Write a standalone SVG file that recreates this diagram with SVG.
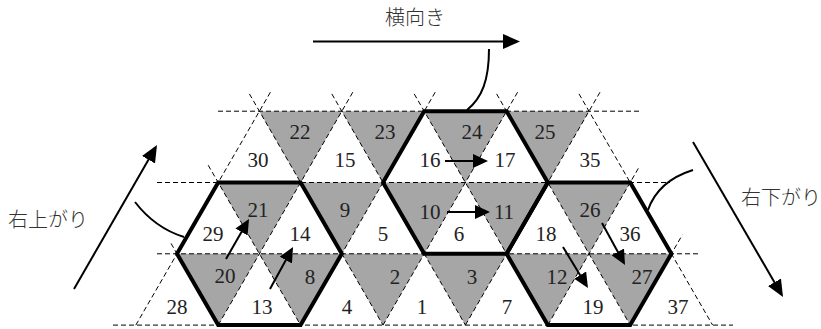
<svg xmlns="http://www.w3.org/2000/svg" width="821" height="329" viewBox="0 0 821 329">
  <style>
    .down { fill: #a6a6a6; stroke: none; }
    .num { font-family: "Liberation Serif", "Times New Roman", serif; font-size: 21px; fill: #222; text-anchor: middle; }
    .jp { font-family: "Noto Sans CJK JP", "Noto Sans", sans-serif; font-size: 20px; font-weight: 300; fill: #333; }
    .grid line { stroke: #000; stroke-width: 1; stroke-dasharray: 5 3; }
    .hex { fill: none; stroke: #000; stroke-width: 4; stroke-linejoin: miter; }
    .big { fill: none; stroke: #000; stroke-width: 2; marker-end: url(#headBig); }
    .small { fill: none; stroke: #000; stroke-width: 2; marker-end: url(#headSmall); }
    .curve { fill: none; stroke: #000; stroke-width: 2; }
  </style>
  <defs>
    <marker id="headBig" markerUnits="userSpaceOnUse" markerWidth="17" markerHeight="15" refX="14" refY="7.5" orient="auto">
      <path d="M0,0 L17,7.5 L0,15 z" fill="#000"/>
    </marker>
    <marker id="headSmall" markerUnits="userSpaceOnUse" markerWidth="15" markerHeight="14" refX="12" refY="7" orient="auto">
      <path d="M0,0 L15,7 L0,14 z" fill="#000"/>
    </marker>
  </defs>
  <rect width="821" height="329" fill="#fff"/>

  <!-- top row of triangles -->
  <g id="cell-30"><text class="num" x="258" y="167">30</text></g>
  <g id="cell-22"><polygon class="down" points="259.4,111.2 341.8,111.2 300.6,182.5"/><text class="num" x="300" y="139">22</text></g>
  <g id="cell-15"><text class="num" x="345" y="167">15</text></g>
  <g id="cell-23"><polygon class="down" points="341.8,111.2 424.2,111.2 383,182.5"/><text class="num" x="385" y="139">23</text></g>
  <g id="cell-16"><text class="num" x="430" y="167">16</text></g>
  <g id="cell-24"><polygon class="down" points="424.2,111.2 506.6,111.2 465.4,182.5"/><text class="num" x="472" y="139">24</text></g>
  <g id="cell-17"><text class="num" x="505" y="167">17</text></g>
  <g id="cell-25"><polygon class="down" points="506.6,111.2 589,111.2 547.8,182.5"/><text class="num" x="545" y="139">25</text></g>
  <g id="cell-35"><text class="num" x="590" y="167">35</text></g>

  <!-- middle row -->
  <g id="cell-29"><text class="num" x="213" y="241">29</text></g>
  <g id="cell-21"><polygon class="down" points="218.2,182.5 300.6,182.5 259.4,253.8"/><text class="num" x="258" y="217">21</text></g>
  <g id="cell-14"><text class="num" x="300" y="241">14</text></g>
  <g id="cell-9"><polygon class="down" points="300.6,182.5 383,182.5 341.8,253.8"/><text class="num" x="345" y="217">9</text></g>
  <g id="cell-5"><text class="num" x="383" y="241">5</text></g>
  <g id="cell-10"><polygon class="down" points="383,182.5 465.4,182.5 424.2,253.8"/><text class="num" x="430" y="219">10</text></g>
  <g id="cell-6"><text class="num" x="459" y="241">6</text></g>
  <g id="cell-11"><polygon class="down" points="465.4,182.5 547.8,182.5 506.6,253.8"/><text class="num" x="504" y="219">11</text></g>
  <g id="cell-18"><text class="num" x="546" y="241">18</text></g>
  <g id="cell-26"><polygon class="down" points="547.8,182.5 630.2,182.5 589,253.8"/><text class="num" x="590" y="217">26</text></g>
  <g id="cell-36"><text class="num" x="630" y="241">36</text></g>

  <!-- bottom row -->
  <g id="cell-28"><text class="num" x="177" y="314">28</text></g>
  <g id="cell-20"><polygon class="down" points="177,253.8 259.4,253.8 218.2,325.1"/><text class="num" x="225" y="283">20</text></g>
  <g id="cell-13"><text class="num" x="262" y="314">13</text></g>
  <g id="cell-8"><polygon class="down" points="259.4,253.8 341.8,253.8 300.6,325.1"/><text class="num" x="310" y="284">8</text></g>
  <g id="cell-4"><text class="num" x="347" y="314">4</text></g>
  <g id="cell-2"><polygon class="down" points="341.8,253.8 424.2,253.8 383,325.1"/><text class="num" x="395" y="284">2</text></g>
  <g id="cell-1"><text class="num" x="422" y="314">1</text></g>
  <g id="cell-3"><polygon class="down" points="424.2,253.8 506.6,253.8 465.4,325.1"/><text class="num" x="472" y="284">3</text></g>
  <g id="cell-7"><text class="num" x="507" y="314">7</text></g>
  <g id="cell-12"><polygon class="down" points="506.6,253.8 589,253.8 547.8,325.1"/><text class="num" x="557" y="284">12</text></g>
  <g id="cell-19"><text class="num" x="593" y="314">19</text></g>
  <g id="cell-27"><polygon class="down" points="589,253.8 671.4,253.8 630.2,325.1"/><text class="num" x="642" y="284">27</text></g>
  <g id="cell-37"><text class="num" x="678" y="314">37</text></g>

  <!-- dashed triangular lattice -->
  <g id="grid" class="grid">
    <line x1="218" y1="111.2" x2="640" y2="111.2"/>
    <line x1="157" y1="182.5" x2="670" y2="182.5"/>
    <line x1="157" y1="253.8" x2="700" y2="253.8"/>
    <line x1="113" y1="325.1" x2="733" y2="325.1"/>
    <!-- falling diagonals -->
    <line x1="171" y1="243.4" x2="218.2" y2="325.1"/>
    <line x1="208.2" y1="165.2" x2="300.6" y2="325.1"/>
    <line x1="249.4" y1="93.9" x2="383" y2="325.1"/>
    <line x1="331.8" y1="93.9" x2="465.4" y2="325.1"/>
    <line x1="414.2" y1="93.9" x2="547.8" y2="325.1"/>
    <line x1="496.6" y1="93.9" x2="630.2" y2="325.1"/>
    <line x1="579" y1="93.9" x2="712.6" y2="325.1"/>
    <!-- rising diagonals -->
    <line x1="135.8" y1="325.1" x2="270.4" y2="92.2"/>
    <line x1="218.2" y1="325.1" x2="352.8" y2="92.2"/>
    <line x1="300.6" y1="325.1" x2="435.2" y2="92.2"/>
    <line x1="383" y1="325.1" x2="517.6" y2="92.2"/>
    <line x1="465.4" y1="325.1" x2="600" y2="92.2"/>
    <line x1="547.8" y1="325.1" x2="639.2" y2="166.9"/>
    <line x1="630.2" y1="325.1" x2="682.4" y2="234.8"/>
  </g>

  <!-- hexagon outlines -->
  <g id="hexagons">
    <polygon id="hex-left" class="hex" points="218.2,182.5 300.6,182.5 341.8,253.8 300.6,325.1 218.2,325.1 177,253.8"/>
    <polygon id="hex-top" class="hex" points="424.2,111.2 506.6,111.2 547.8,182.5 506.6,253.8 424.2,253.8 383,182.5"/>
    <polygon id="hex-right" class="hex" points="547.8,182.5 630.2,182.5 671.4,253.8 630.2,325.1 547.8,325.1 506.6,253.8"/>
  </g>

  <!-- direction arrows and leader curves -->
  <g id="connectors">
    <path class="big" d="M313,41.5 H517"/>
    <path class="big" d="M74,289 L155.5,147.6"/>
    <path class="big" d="M693,142 L781.5,294.4"/>
    <path class="curve" d="M489,49 C489,80 482,98 467,110"/>
    <path class="curve" d="M135,202 Q155,228 184,237"/>
    <path class="curve" d="M693,170 Q658,181 648,210"/>
    <path class="small" d="M445,161 H485"/>
    <path class="small" d="M447,212 H487"/>
    <path class="small" d="M226,259 L247.5,221.6"/>
    <path class="small" d="M270,289 L291.6,249.6"/>
    <path class="small" d="M563,247 L586.4,285.4"/>
    <path class="small" d="M602,223 L623.6,262.4"/>
  </g>

  <!-- captions -->
  <g id="captions">
    <text class="jp" x="385" y="25">横向き</text>
    <text class="jp" x="8" y="227">右上がり</text>
    <text class="jp" x="741" y="205">右下がり</text>
  </g>
</svg>
